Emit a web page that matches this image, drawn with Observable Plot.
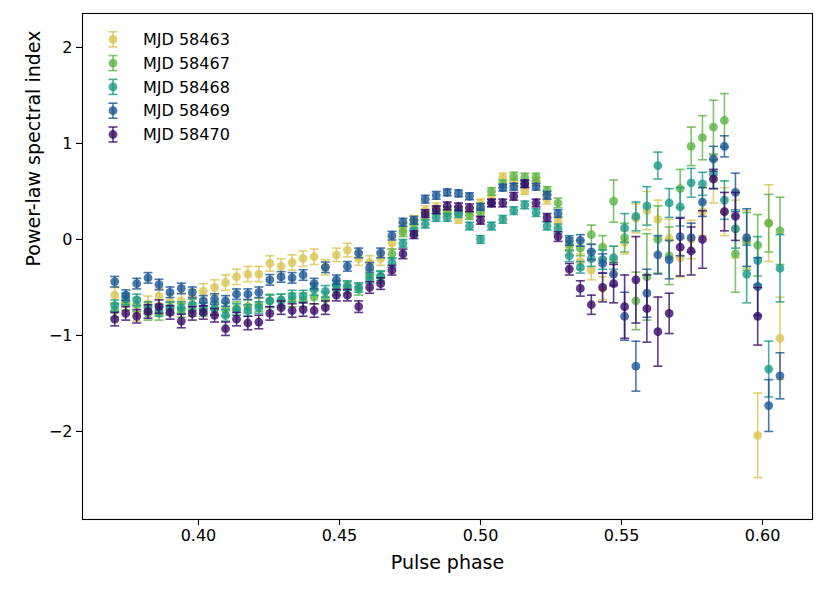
<!DOCTYPE html>
<html><head><meta charset="utf-8">
<script src="https://cdn.jsdelivr.net/npm/d3@7"></script>
<script src="https://cdn.jsdelivr.net/npm/@observablehq/plot@0.6"></script>
<style>
body{margin:0;background:#fff;font-family:"DejaVu Sans",sans-serif;}
#wrap{position:relative;width:830px;height:593px;}
#legend{position:absolute;left:0;top:0;}
</style></head><body><div id="wrap"></div>
<script>
const phase = [0.3703,0.3742,0.3781,0.3821,0.3860,0.3899,0.3939,0.3978,0.4017,0.4057,
0.4096,0.4135,0.4175,0.4214,0.4253,0.4293,0.4332,0.4371,0.4410,0.4450,
0.4489,0.4528,0.4568,0.4607,0.4646,0.4686,0.4725,0.4764,0.4804,0.4843,
0.4882,0.4922,0.4961,0.5000,0.5039,0.5079,0.5118,0.5157,0.5197,0.5236,
0.5275,0.5315,0.5354,0.5393,0.5433,0.5472,0.5511,0.5551,0.5590,0.5629,
0.5669,0.5708,0.5747,0.5787,0.5826,0.5865,0.5904,0.5944,0.5983,0.6022,0.6062];

const seriesNames = ["MJD 58463","MJD 58467","MJD 58468","MJD 58469","MJD 58470"];
const seriesColors = ["#d9c551","#5db445","#1a9a88","#1c5696","#3a0a6a"];

const idx58463 = [-0.58,-0.65,-0.77,-0.67,-0.59,-0.65,-0.64,-0.60,-0.54,-0.50,
-0.45,-0.39,-0.36,-0.36,-0.25,-0.28,-0.24,-0.20,-0.18,-0.29,
-0.16,-0.11,-0.20,-0.24,-0.20,-0.04,0.11,0.20,0.30,0.33,
0.28,0.21,0.30,0.38,0.42,0.65,0.60,0.51,0.60,0.42,
0.19,-0.09,-0.23,-0.32,-0.51,-0.22,-0.03,0.22,0.30,0.21,
0.01,-0.19,0.00,0.29,0.63,0.29,0.11,0.00,-2.04,0.17,-1.03];
const err58463 = [0.08,0.08,0.08,0.08,0.08,0.08,0.08,0.08,0.08,0.08,
0.08,0.08,0.08,0.08,0.08,0.08,0.08,0.08,0.08,0.08,
0.07,0.07,0.07,0.07,0.07,0.06,0.06,0.05,0.05,0.05,
0.04,0.04,0.04,0.04,0.04,0.04,0.04,0.04,0.04,0.05,
0.05,0.07,0.08,0.10,0.12,0.15,0.12,0.15,0.20,0.20,
0.20,0.20,0.20,0.25,0.25,0.25,0.30,0.30,0.44,0.40,0.43];

const idx58467 = [-0.74,-0.67,-0.68,-0.77,-0.77,-0.72,-0.74,-0.73,-0.73,-0.72,
-0.73,-0.72,-0.70,-0.68,-0.64,-0.64,-0.63,-0.63,-0.60,-0.62,
-0.52,-0.50,-0.52,-0.38,-0.39,-0.15,0.08,0.16,0.25,0.30,
0.30,0.30,0.25,0.28,0.50,0.58,0.66,0.65,0.65,0.51,
0.38,-0.05,-0.09,0.05,-0.08,0.40,0.02,-0.64,-0.39,0.00,
-0.17,0.53,0.97,1.06,1.17,1.24,-0.15,-0.02,-0.06,0.17,0.09];
const err58467 = [0.07,0.07,0.07,0.07,0.07,0.07,0.07,0.07,0.07,0.07,
0.07,0.07,0.07,0.07,0.07,0.07,0.07,0.07,0.07,0.07,
0.06,0.06,0.06,0.06,0.06,0.05,0.05,0.05,0.04,0.04,
0.04,0.04,0.04,0.04,0.04,0.04,0.04,0.04,0.04,0.04,
0.05,0.07,0.08,0.10,0.12,0.22,0.15,0.30,0.45,0.35,
0.30,0.20,0.20,0.23,0.28,0.28,0.40,0.30,0.32,0.30,0.35];

const idx58468 = [-0.69,-0.62,-0.63,-0.71,-0.74,-0.71,-0.71,-0.68,-0.72,-0.72,
-0.79,-0.73,-0.74,-0.71,-0.64,-0.63,-0.59,-0.59,-0.52,-0.54,
-0.48,-0.48,-0.50,-0.41,-0.38,-0.24,-0.04,0.08,0.16,0.23,
0.23,0.27,0.14,0.00,0.14,0.21,0.30,0.36,0.28,0.14,
0.11,-0.17,-0.29,-0.20,-0.21,-0.19,0.12,0.24,0.35,0.77,
0.38,0.34,0.59,0.58,0.68,0.41,0.11,-0.36,-0.22,-1.35,-0.30];
const err58468 = [0.06,0.06,0.06,0.06,0.06,0.06,0.06,0.06,0.06,0.06,
0.06,0.06,0.06,0.06,0.06,0.06,0.06,0.06,0.06,0.06,
0.05,0.05,0.05,0.05,0.05,0.05,0.04,0.04,0.04,0.04,
0.04,0.04,0.04,0.04,0.04,0.04,0.04,0.04,0.04,0.04,
0.05,0.06,0.06,0.08,0.10,0.12,0.15,0.15,0.20,0.14,
0.15,0.20,0.15,0.12,0.15,0.20,0.20,0.30,0.25,0.29,0.35];

const idx58469 = [-0.44,-0.58,-0.46,-0.40,-0.47,-0.55,-0.51,-0.55,-0.64,-0.62,
-0.64,-0.57,-0.57,-0.55,-0.42,-0.39,-0.40,-0.37,-0.46,-0.29,
-0.42,-0.28,-0.14,-0.29,-0.14,0.04,0.18,0.20,0.42,0.46,
0.49,0.48,0.45,0.34,0.38,0.54,0.55,0.58,0.55,0.46,
0.27,-0.01,-0.01,-0.13,-0.25,-0.36,-0.80,-1.32,-0.56,-0.16,
-0.21,0.03,0.02,0.39,0.84,0.97,0.49,0.02,-0.49,-1.73,-1.42];
const err58469 = [0.055,0.055,0.055,0.055,0.055,0.055,0.055,0.055,0.055,0.055,
0.055,0.055,0.055,0.055,0.055,0.055,0.055,0.055,0.055,0.055,
0.05,0.05,0.05,0.05,0.05,0.045,0.04,0.04,0.04,0.04,
0.035,0.035,0.035,0.035,0.035,0.035,0.035,0.035,0.035,0.04,
0.04,0.05,0.06,0.08,0.10,0.12,0.25,0.26,0.25,0.20,
0.20,0.20,0.15,0.15,0.13,0.11,0.20,0.30,0.30,0.27,0.24];

const idx58470 = [-0.83,-0.77,-0.80,-0.75,-0.70,-0.76,-0.85,-0.77,-0.76,-0.79,
-0.93,-0.83,-0.87,-0.86,-0.77,-0.71,-0.74,-0.73,-0.74,-0.71,
-0.58,-0.58,-0.70,-0.50,-0.46,-0.32,-0.15,0.05,0.27,0.31,
0.35,0.34,0.33,0.20,0.38,0.38,0.45,0.58,0.38,0.23,
0.03,-0.31,-0.51,-0.68,-0.50,-0.46,-0.70,-0.42,-0.72,-0.96,
-0.77,-0.08,-0.12,0.00,0.63,0.29,0.24,null,-0.80,null,null];
const err58470 = [0.07,0.07,0.07,0.07,0.07,0.07,0.07,0.07,0.07,0.07,
0.07,0.07,0.07,0.07,0.07,0.07,0.07,0.07,0.07,0.07,
0.06,0.06,0.06,0.06,0.06,0.05,0.05,0.04,0.04,0.04,
0.04,0.04,0.04,0.04,0.04,0.04,0.04,0.04,0.04,0.04,
0.05,0.06,0.08,0.10,0.15,0.20,0.33,0.45,0.35,0.36,
0.21,0.30,0.25,0.30,0.10,0.20,0.25,null,0.30,null,null];

const xTicks = [0.40,0.45,0.50,0.55,0.60];
const yTicks = [-2,-1,0,1,2];

const values = [idx58463,idx58467,idx58468,idx58469,idx58470];
const errs = [err58463,err58467,err58468,err58469,err58470];

const rows = [];
seriesNames.forEach((s,k)=>values[k].forEach((v,i)=>{
  if (v != null) rows.push({phase: phase[i], v, e: errs[k][i], s});
}));

const capSym = {draw(ctx){ctx.moveTo(-4.5,0);ctx.lineTo(4.5,0);}};
const OP = 0.8;
const marks = [];
seriesNames.forEach((s,k)=>{
  const d = rows.filter(r=>r.s===s);
  const c = seriesColors[k];
  marks.push(Plot.ruleX(d,{x:"phase", y1:r=>r.v-r.e, y2:r=>r.v+r.e, stroke:c, strokeWidth:1.6, strokeOpacity:OP}));
  marks.push(Plot.dot(d,{x:"phase", y:r=>r.v+r.e, symbol:capSym, stroke:c, fill:"none", strokeWidth:1.6, strokeOpacity:OP}));
  marks.push(Plot.dot(d,{x:"phase", y:r=>r.v-r.e, symbol:capSym, stroke:c, fill:"none", strokeWidth:1.6, strokeOpacity:OP}));
  marks.push(Plot.dot(d,{x:"phase", y:"v", r:4.4, fill:c, fillOpacity:OP, stroke:"none"}));
});

const fmtMinus = d => d < 0 ? "\u2212" + Math.abs(d) : String(d);

const chart = Plot.plot({
  width: 830, height: 593,
  marginLeft: 82, marginRight: 18, marginTop: 13, marginBottom: 74,
  style: {fontFamily: "DejaVu Sans", fontSize: "16px", color: "black", background: "white"},
  x: {domain: [0.35887, 0.61773]},
  y: {domain: [-2.917, 2.354]},
  marks: [
    ...marks,
    Plot.axisX({ticks: xTicks, tickFormat: d3.format(".2f"), tickSize: 6, tickPadding: 4, fontSize: 16, strokeWidth: 1.1, label: null}),
    Plot.axisY({ticks: yTicks, tickFormat: fmtMinus, tickSize: 6, tickPadding: 4, fontSize: 16, strokeWidth: 1.1, label: null}),
    Plot.frame({stroke: "black", strokeWidth: 1.1}),
    Plot.text(["Pulse phase"], {frameAnchor: "bottom", dy: 43, fontSize: 19, lineAnchor: "middle", fill: "black"}),
    Plot.text(["Power-law spectral index"], {frameAnchor: "left", dx: -49, rotate: -90, fontSize: 19, lineAnchor: "middle", fill: "black"})
  ]
});
document.getElementById("wrap").appendChild(chart);

// legend overlay (upper left, inside axes)
const lg = d3.select("#wrap").append("svg").attr("id","legend").attr("width",300).attr("height",170);
seriesNames.forEach((s,k)=>{
  const cy = 39.3 + k*23.8, cx = 113, c = seriesColors[k];
  const g = lg.append("g");
  g.append("line").attr("x1",cx).attr("x2",cx).attr("y1",cy-7.5).attr("y2",cy+7.5).attr("stroke",c).attr("stroke-width",1.6).attr("stroke-opacity",OP);
  g.append("line").attr("x1",cx-4.5).attr("x2",cx+4.5).attr("y1",cy-7.5).attr("y2",cy-7.5).attr("stroke",c).attr("stroke-width",1.6).attr("stroke-opacity",OP);
  g.append("line").attr("x1",cx-4.5).attr("x2",cx+4.5).attr("y1",cy+7.5).attr("y2",cy+7.5).attr("stroke",c).attr("stroke-width",1.6).attr("stroke-opacity",OP);
  g.append("circle").attr("cx",cx).attr("cy",cy).attr("r",4.4).attr("fill",c).attr("fill-opacity",OP);
  g.append("text").attr("x",143).attr("y",cy).attr("dy","0.36em").attr("font-family","DejaVu Sans").attr("font-size",16).attr("fill","black").text(s);
});
</script></body></html>
